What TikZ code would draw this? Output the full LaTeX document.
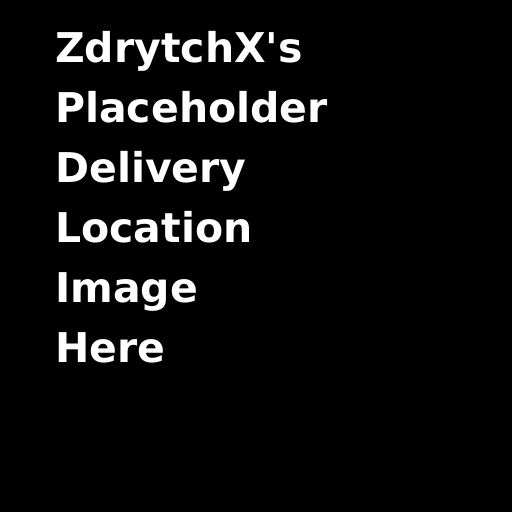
\documentclass[tikz,border=0pt]{standalone}
\usepackage{fontspec}
\newfontfamily\plainsans{DejaVu Sans}
\begin{document}
\begin{tikzpicture}[x=1pt,y=1pt,
  txt/.style={anchor=base west,inner sep=0pt,text=white,font=\plainsans\bfseries\fontsize{41}{48}\selectfont}]
\fill[black] (0,0) rectangle (512,512);
\useasboundingbox (0,0) rectangle (512,512);
\node[txt] (l1) at (55,449.5) {ZdrytchX's};
\node[txt] (l2) at (55,389.5) {Placeholder};
\node[txt] (l3) at (55,329.5) {Delivery};
\node[txt] (l4) at (55,269.5) {Location};
\node[txt] (l5) at (55,209.5) {Image};
\node[txt] (l6) at (55,149.5) {Here};
\end{tikzpicture}
\end{document}
